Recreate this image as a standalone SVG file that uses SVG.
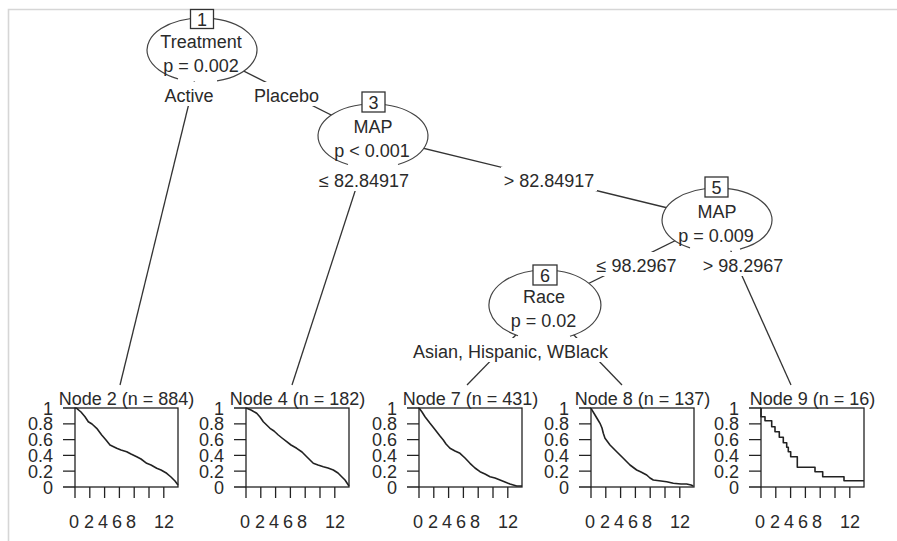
<svg xmlns="http://www.w3.org/2000/svg" width="897" height="541" viewBox="0 0 897 541">
<style>
.t{font-family:"Liberation Sans",Arial,sans-serif;font-size:18px;fill:#2a2a2a;text-anchor:middle}
.yl{text-anchor:end}
.xl{font-size:18px}
.ln{stroke:#333;stroke-width:1.3;fill:none}
.bg{fill:#fff}
.ef{fill:#fff;stroke:none}
.es{fill:none;stroke:#444;stroke-width:1.2}
.box{fill:#fff;stroke:#333;stroke-width:1.3}
.frame{fill:none;stroke:#222;stroke-width:1.3}
.ax{fill:none;stroke:#222;stroke-width:1.3}
.cv{fill:none;stroke:#222;stroke-width:1.6;stroke-linejoin:round}
.border{stroke:#d6d6d6;stroke-width:1.6;fill:none}
</style>
<rect width="897" height="541" fill="#fff"/>
<path class="border" d="M8.5,541V9.5H897"/>

<g id="connectors">
  <line class="ln" x1="202" y1="50" x2="120" y2="385"/>
  <line class="ln" x1="202" y1="50" x2="373" y2="136"/>
  <line class="ln" x1="373" y1="136" x2="292" y2="385"/>
  <line class="ln" x1="373" y1="136" x2="717" y2="220"/>
  <line class="ln" x1="717" y1="220" x2="545" y2="305"/>
  <line class="ln" x1="717" y1="220" x2="791" y2="385"/>
  <line class="ln" x1="545" y1="305" x2="467" y2="385"/>
  <line class="ln" x1="545" y1="305" x2="622" y2="385"/>
  <rect class="bg" x="161" y="82" width="56" height="24"/>
  <rect class="bg" x="251" y="82" width="71" height="24"/>
  <rect class="bg" x="316" y="167" width="96" height="24"/>
  <rect class="bg" x="501" y="167" width="96" height="24"/>
  <rect class="bg" x="593.5" y="252" width="86" height="24"/>
  <rect class="bg" x="700" y="252" width="86" height="24"/>
  <rect class="bg" x="410" y="338" width="201" height="24"/>
  <text class="t" x="189" y="102">Active</text>
  <text class="t" x="286.5" y="102">Placebo</text>
  <text class="t" x="364" y="187">≤ 82.84917</text>
  <text class="t" x="549" y="187">&gt; 82.84917</text>
  <text class="t" x="636.5" y="272">≤ 98.2967</text>
  <text class="t" x="743" y="272">&gt; 98.2967</text>
  <text class="t" x="510.5" y="358">Asian, Hispanic, WBlack</text>
</g>

<g id="node1">
  <ellipse class="ef" cx="202" cy="50" rx="55" ry="32"/>
  <path class="es" d="M217,80.8A55,32 0 1 0 178,78.8"/>
  <rect class="box" x="190.5" y="9.5" width="23" height="19"/>
  <text class="t" x="202" y="25.5">1</text>
  <text class="t" x="201" y="48">Treatment</text>
  <text class="t" x="201" y="72">p = 0.002</text>
</g>

<g id="node3">
  <ellipse class="ef" cx="373" cy="136" rx="55" ry="32"/>
  <path class="es" d="M398,164.5A55,32 0 1 0 348,164.5"/>
  <rect class="box" x="362" y="92" width="23" height="20"/>
  <text class="t" x="373.5" y="109">3</text>
  <text class="t" x="373" y="133">MAP</text>
  <text class="t" x="372" y="157">p &lt; 0.001</text>
</g>

<g id="node5">
  <ellipse class="ef" cx="717" cy="220" rx="55" ry="32"/>
  <path class="es" d="M740,249.1A55,32 0 1 0 690,247.9"/>
  <rect class="box" x="705" y="177" width="23" height="20"/>
  <text class="t" x="716.5" y="194">5</text>
  <text class="t" x="717" y="218">MAP</text>
  <text class="t" x="716" y="242">p = 0.009</text>
</g>

<g id="node6">
  <ellipse class="ef" cx="545" cy="305" rx="56" ry="35"/>
  <path class="es" d="M570,336.3A56,35 0 1 0 518,335.7"/>
  <rect class="box" x="533" y="265" width="24" height="20"/>
  <text class="t" x="545" y="282">6</text>
  <text class="t" x="544" y="303">Race</text>
  <text class="t" x="543.5" y="327">p = 0.02</text>
</g>

<defs>
  <g id="axes">
    <rect class="frame" x="0" y="408" width="103" height="79"/>
    <path class="ax" d="M-12,408H0M-12,423.8H0M-12,439.6H0M-12,455.4H0M-12,471.2H0M-12,487H0M0,487V498M14.8,487V498M29.6,487V498M44.4,487V498M59.2,487V498M74,487V498M88.8,487V498"/>
    <text class="t yl" x="-22" y="414.5">1</text>
    <text class="t yl" x="-22" y="430.3">0.8</text>
    <text class="t yl" x="-22" y="446.1">0.6</text>
    <text class="t yl" x="-22" y="461.9">0.4</text>
    <text class="t yl" x="-22" y="477.7">0.2</text>
    <text class="t yl" x="-22" y="493.5">0</text>
    <text class="t xl" x="-1" y="528">0</text>
    <text class="t xl" x="14" y="528">2</text>
    <text class="t xl" x="28" y="528">4</text>
    <text class="t xl" x="42" y="528">6</text>
    <text class="t xl" x="56" y="528">8</text>
    <text class="t xl" x="89" y="528">12</text>
  </g>
</defs>

<g id="node2" transform="translate(75,0)">
  <use href="#axes"/>
  <text class="t" x="51.5" y="405">Node 2 (n = 884)</text>
  <polyline class="cv" points="0,408 1.7,408.3 6,412 10,416.7 13.3,421.7 17,424 21.7,428.3 26.7,435 31,440 35,445 41.7,448.3 46,450 51.7,451.7 56,454 61.7,456.7 66,459 71.7,463.3 76,465 81.7,468.3 86,470 91.7,473.3 96,477 100,481 103,485"/>
</g>

<g id="node4" transform="translate(246,0)">
  <use href="#axes"/>
  <text class="t" x="51.5" y="405">Node 4 (n = 182)</text>
  <polyline class="cv" points="0,408 0.7,408.3 5,410 10.7,413.3 14,417 17.3,421.7 24,428.3 28,431 32.3,435 36,438 40.7,441.7 45,445 50.7,448.3 56,452 60.7,456.7 64,460 67.3,463.3 72,465 77.3,466.7 82,468 87.3,470 92,473 95.7,476.7 99,480 101,483 103,486"/>
</g>

<g id="node7" transform="translate(419,0)">
  <use href="#axes"/>
  <text class="t" x="51.5" y="405">Node 7 (n = 431)</text>
  <polyline class="cv" points="0,408 0.3,408.3 3,412 6,416.7 11,423.3 14,427 17.7,431.7 21,436 24.3,440 27,444 31,448.3 36,451 41,453.3 46,458 51,463.3 56,468 61,471.7 66,474 71,476.7 76,478 81,480 86,482 91,484 97.7,486 103,486"/>
</g>

<g id="node8" transform="translate(591,0)">
  <use href="#axes"/>
  <text class="t" x="51.5" y="405">Node 8 (n = 137)</text>
  <polyline class="cv" points="0,408 0,408.3 4,415 7,420 9,423.3 11,428 12.3,433.3 14,438.3 19,445 25.7,451.7 32.3,458.3 39,465 45.7,470 50,472 55.7,475 59,478 62.3,480 70,481 75.7,481.7 82.3,483.3 90,484 95.7,484 100,485 102.3,486"/>
</g>

<g id="node9" transform="translate(761,0)">
  <use href="#axes"/>
  <text class="t" x="51.5" y="405">Node 9 (n = 16)</text>
  <path class="cv" d="M0,408V416.7H4V420.7H10.7V426.7H14V431.7H18.3V437.3H22.3V442.7H25.7V447.3H27.3V451.7H29.7V456.7H36.3V467.3H54V471.7H61.7V476.7H83V480.7H103"/>
</g>
</svg>
